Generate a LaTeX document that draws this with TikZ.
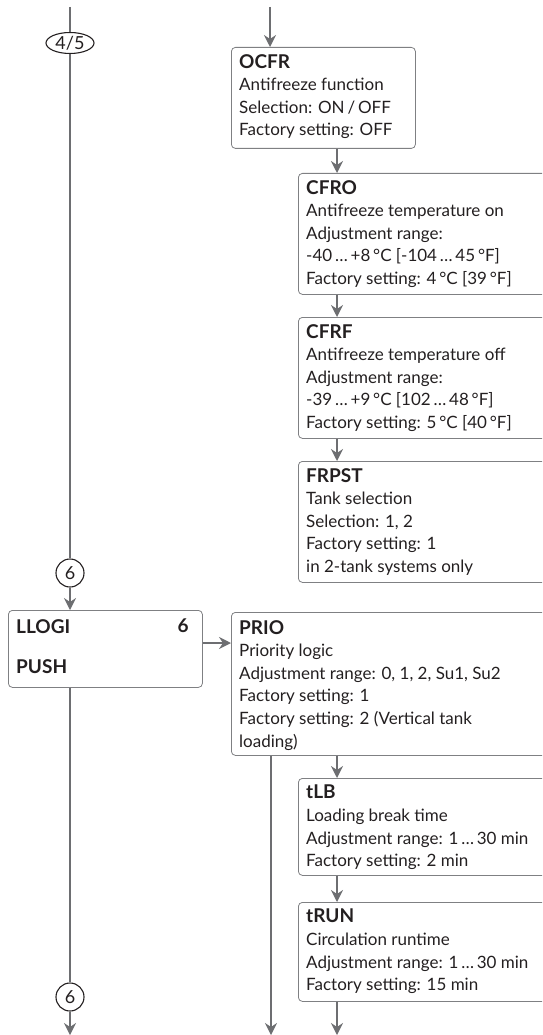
\documentclass[tikz,border=0pt]{standalone}
\usepackage{fontspec}
\setmainfont{Lato}
\usetikzlibrary{arrows.meta,shapes.geometric}
\definecolor{ln}{HTML}{6D6E71}
\definecolor{bx}{HTML}{7F8083}
\definecolor{tx}{HTML}{231F20}
\newcommand\hdr[1]{{\fontsize{19}{22.6}\selectfont\bfseries #1}}
\begin{document}
\begin{tikzpicture}[x=1pt,y=-1pt,
  conn/.style={draw=ln, line width=1.5pt},
  arr/.style={conn, -{Stealth[length=12pt,width=12pt,inset=4pt]}},
  box/.style={draw=bx, line width=0.8pt, rounded corners=4pt, anchor=north west, inner sep=0pt},
  txt/.style={anchor=north west, inner sep=0pt, align=left, text=tx, font=\fontsize{17}{22.6}\selectfont},
  conncirc/.style={draw=tx, circle, line width=1.1pt, minimum size=28pt, inner sep=0pt, text=tx, font=\fontsize{18}{18}\selectfont},
  connell/.style={draw=tx, ellipse, line width=1.1pt, minimum width=48pt, minimum height=21pt, inner sep=0pt, text=tx, font=\fontsize{18}{18}\selectfont}
]
\useasboundingbox (0,0) rectangle (542,1035);
\clip (0,0) rectangle (542,1035);

% boxes
\node[box, minimum width=184pt, minimum height=101pt] (ocfr) at (231,47) {};
\node[box, minimum width=260pt, minimum height=121pt] (cfro) at (298,173) {};
\node[box, minimum width=260pt, minimum height=121pt] (cfrf) at (298,317) {};
\node[box, minimum width=260pt, minimum height=121pt] (frpst) at (298,461) {};
\node[box, minimum width=194pt, minimum height=77pt] (llogi) at (8,610) {};
\node[box, minimum width=330pt, minimum height=143pt] (prio) at (231,612) {};
\node[box, minimum width=260pt, minimum height=97pt] (tlb) at (298,778) {};
\node[box, minimum width=260pt, minimum height=99pt] (trun) at (298,902) {};

% texts
\node[txt] (ocfrt) at ([xshift=8pt,yshift=-7pt]ocfr.north west) {\hdr{OCFR}\\Antifreeze function\\Selection: ON\,/\,OFF\\Factory setting: OFF};
\node[txt] (cfrot) at ([xshift=8pt,yshift=-7pt]cfro.north west) {\hdr{CFRO}\\Antifreeze temperature on\\Adjustment range:\\-40\,…\,+8\,°C [-104\,…\,45\,°F]\\Factory setting: 4\,°C [39\,°F]};
\node[txt] (cfrft) at ([xshift=8pt,yshift=-7pt]cfrf.north west) {\hdr{CFRF}\\Antifreeze temperature off\\Adjustment range:\\-39\,…\,+9\,°C [102\,…\,48\,°F]\\Factory setting: 5\,°C [40\,°F]};
\node[txt] (frpstt) at ([xshift=8pt,yshift=-7pt]frpst.north west) {\hdr{FRPST}\\Tank selection\\Selection: 1, 2\\Factory setting: 1\\in 2-tank systems only};
\node[txt] (llogit) at ([xshift=8pt,yshift=-9pt]llogi.north west) {\hdr{LLOGI}\\[17.4pt]\hdr{PUSH}};
\node[txt, anchor=north east] (llogin) at ([xshift=-14pt,yshift=-9pt]llogi.north east) {\hdr{6}};
\node[txt] (priot) at ([xshift=8pt,yshift=-8pt]prio.north west) {\hdr{PRIO}\\Priority logic\\Adjustment range: 0, 1, 2, Su1, Su2\\Factory setting: 1\\Factory setting: 2 (Vertical tank\\loading)};
\node[txt] (tlbt) at ([xshift=8pt,yshift=-7pt]tlb.north west) {\hdr{tLB}\\Loading break time\\Adjustment range: 1\,…\,30 min\\Factory setting: 2 min};
\node[txt] (trunt) at ([xshift=8pt,yshift=-7pt]trun.north west) {\hdr{tRUN}\\Circulation runtime\\Adjustment range: 1\,…\,30 min\\Factory setting: 15 min};

% connectors (left column)
\node[connell] (c45) at (70,43) {4/5};
\node[conncirc] (c6a) at (70,573) {6};
\node[conncirc] (c6b) at (70,997) {6};
\coordinate (topL) at (70,7);
\coordinate (botL) at (70,1035);
\draw[conn] (topL) -- (c45.north);
\draw[conn] (c45.south) -- (c6a.north);
\draw[arr] (c6a.south) -- (c6a.south |- llogi.north);
\draw[conn] (c6a.south |- llogi.south) -- (c6b.north);
\draw[arr] (c6b.south) -- (botL);

% right column
\coordinate (topR) at (270,7);
\coordinate (xa) at (337,0);
\coordinate (xp) at (271,0);
\coordinate (ya) at (0,643);
\coordinate (bot) at (0,1035);
\draw[arr] (topR) -- (topR |- ocfr.north);
\draw[arr] (ocfr.south -| xa) -- (cfro.north -| xa);
\draw[arr] (cfro.south -| xa) -- (cfrf.north -| xa);
\draw[arr] (cfrf.south -| xa) -- (frpst.north -| xa);
\draw[arr] (llogi.east |- ya) -- (prio.west |- ya);
\draw[arr] (prio.south -| xp) -- (xp |- bot);
\draw[arr] (prio.south -| xa) -- (tlb.north -| xa);
\draw[arr] (tlb.south -| xa) -- (trun.north -| xa);
\draw[arr] (trun.south -| xa) -- (xa |- bot);
\end{tikzpicture}
\end{document}
